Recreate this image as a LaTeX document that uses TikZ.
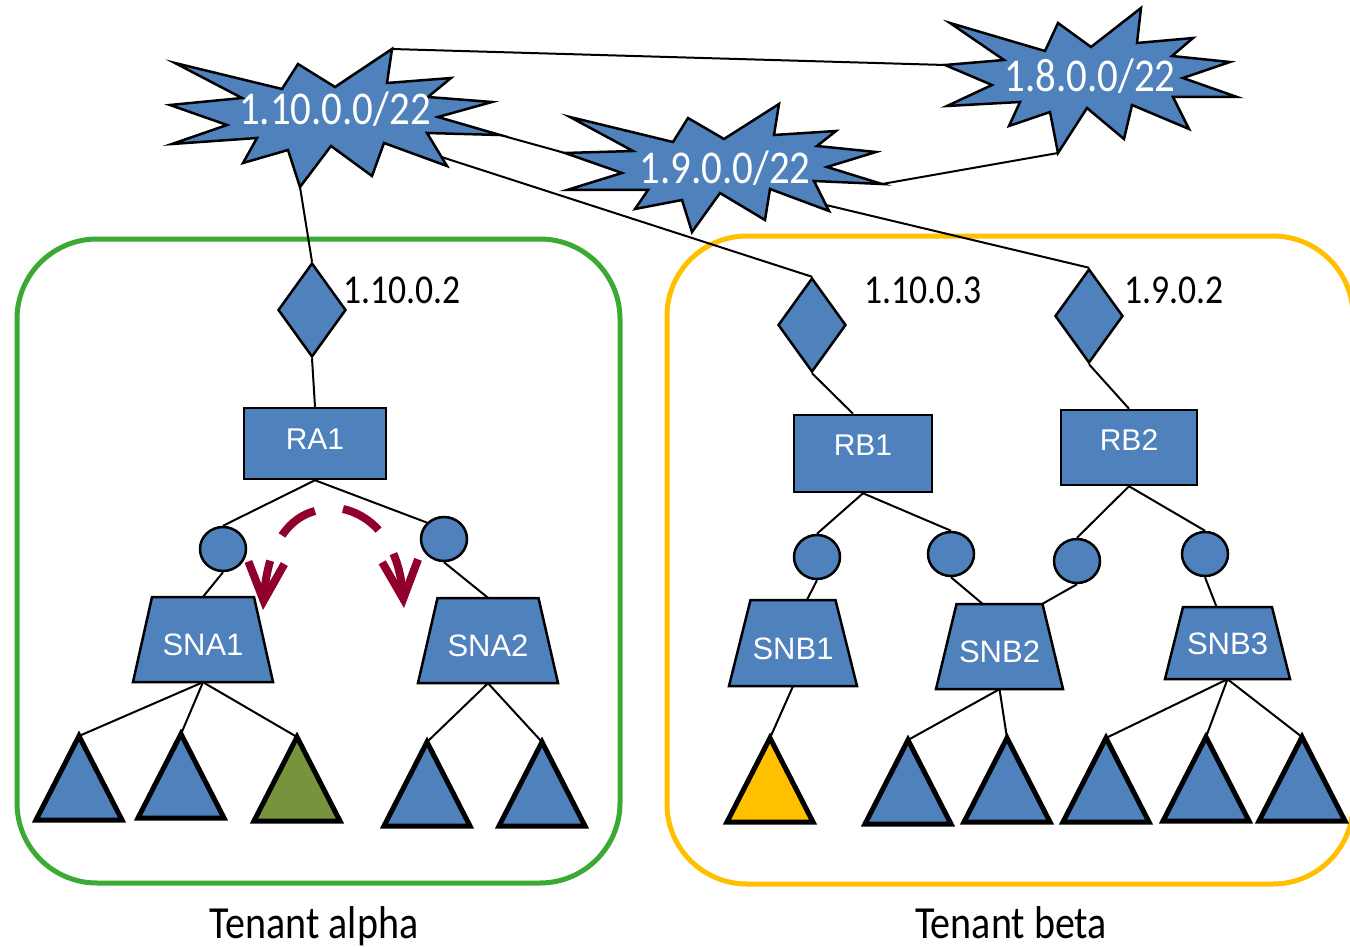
\documentclass[tikz,border=0pt]{standalone}
\usepackage{fontspec}
\usetikzlibrary{shapes.geometric,arrows.meta,calc}
\newfontfamily\gill[FakeStretch=0.87]{Carlito}
\newfontfamily\arial{Liberation Sans}
\definecolor{nodeblue}{RGB}{79,129,189}
\definecolor{tgreen}{RGB}{58,170,53}
\definecolor{tyellow}{RGB}{255,192,0}
\definecolor{olive}{RGB}{119,147,60}
\definecolor{migred}{RGB}{144,0,44}

% subnet: trapezoid outline plus a named label node
% #1 name, #2 #3 centre, #4 top width, #5 bottom width, #6 height, #7 text
\newcommand\subnetnode[7]{%
  \draw[blueshape, line join=miter] ({#2-#4/2},{#3-#6/2}) -- ({#2+#4/2},{#3-#6/2})
    -- ({#2+#5/2},{#3+#6/2}) -- ({#2-#5/2},{#3+#6/2}) -- cycle;
  \node[subnet, minimum width=#5pt, minimum height=#6pt] (#1) at (#2,#3) {#7};}

\begin{document}
\begin{tikzpicture}[x=1pt,y=-1pt,
  conn/.style={draw=black, line width=2pt},
  blueshape/.style={fill=nodeblue, draw=black, line width=2.5pt},
  star/.style={blueshape, line join=miter},
  netlabel/.style={text=white, font=\gill\fontsize{47}{47}\selectfont, anchor=base, inner sep=0pt},
  iplabel/.style={text=black, font=\gill\fontsize{41}{41}\selectfont, anchor=base, inner sep=0pt},
  tenantlabel/.style={text=black, font=\gill\fontsize{46}{46}\selectfont, anchor=base, inner sep=0pt},
  gw/.style={blueshape, diamond, minimum width=68pt, minimum height=94pt, inner sep=0pt},
  router/.style={blueshape, rectangle, inner sep=0pt, text=white,
    font=\arial\fontsize{30}{30}\selectfont, text height=21.5pt},
  port/.style={blueshape, ellipse, minimum width=46pt, minimum height=44pt, inner sep=0pt},
  subnet/.style={rectangle, inner sep=0pt, text=white, font=\arial\fontsize{31}{31}\selectfont,
    text height=32pt, text depth=0pt},
  vm/.style={draw=black, line width=5pt, fill=nodeblue},
  tenantbox/.style={rectangle, line width=5pt, rounded corners=80pt, inner sep=0pt},
  migrate/.style={draw=migred, line width=8pt, dash pattern=on 42pt off 28pt,
    -{Straight Barb[length=38pt,width=36pt]}}
]
\useasboundingbox (0,0) rectangle (1350,947);

% tenant frames
\node[tenantbox, draw=tgreen, minimum width=603pt, minimum height=644pt] (alpha) at (318.5,561) {};
\node[tenantbox, draw=tyellow, minimum width=686pt, minimum height=648pt] (beta) at (1010,560) {};
\node[tenantlabel] (alphalabel) at (314,938) {Tenant alpha};
\node[tenantlabel] (betalabel) at (1011,938) {Tenant beta};

% network clouds
\coordinate (s10a) at (392,49);
\coordinate (s10r) at (500,135);
\coordinate (s10c) at (441.5,157);
\coordinate (s10d) at (300,187);
\draw[star] (175,63) -- (282,89) -- (298,64) -- (335,87) -- (s10a) -- (387,83) -- (451,78)
  -- (428,97) -- (492,102) -- (438,117) -- (s10r) -- (427,133) -- (447,166) -- (384,143)
  -- (372,176) -- (331,146) -- (s10d) -- (288,150) -- (243,163) -- (257,138) -- (172,144)
  -- (227,125) -- (170,105) -- (242,98) -- cycle;
\node[netlabel] (net10) at (335,125) {1.10.0.0/22};

\coordinate (s9l) at (565,153);
\coordinate (s9r) at (882,184);
\coordinate (s9c) at (826,205);
\draw[star] (570,117) -- (673,142) -- (688,118) -- (724,139) -- (779,104) -- (774,135)
  -- (836,131) -- (817,146) -- (876,152) -- (827,167) -- (s9r) -- (814,181) -- (829,211)
  -- (770,189) -- (765,220) -- (720,193) -- (692,232) -- (682,200) -- (635,209) -- (648,190)
  -- (567,190) -- (622,173) -- (s9l) -- (633,151) -- cycle;
\node[netlabel] (net9) at (725,183) {1.9.0.0/22};

\coordinate (s8l) at (945,65);
\coordinate (s8b) at (1058,153);
\draw[star] (950,23) -- (1045,51) -- (1058,23) -- (1091,47) -- (1141,8) -- (1137,43)
  -- (1193,38) -- (1172,56) -- (1230,62) -- (1183,78) -- (1237,97) -- (1173,97) -- (1189,129)
  -- (1132,105) -- (1124,139) -- (1087,108) -- (s8b) -- (1050,112) -- (1009,126) -- (1020,102)
  -- (947,106) -- (992,85) -- (s8l) -- (1004,60) -- cycle;
\node[netlabel] (net8) at (1090,92) {1.8.0.0/22};

% gateways
\node[gw] (gwa) at (312,310) {};
\node[gw] (gwb1) at (812,325) {};
\node[gw] (gwb2) at (1089,316) {};
\node[iplabel] (ipa) at (402,303) {1.10.0.2};
\node[iplabel] (ipb1) at (923,303) {1.10.0.3};
\node[iplabel] (ipb2) at (1174,303) {1.9.0.2};

% routers
\node[router, minimum width=142pt, minimum height=71pt, text depth=10pt] (ra1) at (315,443.5) {RA1};
\node[router, minimum width=138pt, minimum height=77pt, text depth=17pt] (rb1) at (863,453.5) {RB1};
\node[router, minimum width=136pt, minimum height=75pt, text depth=15pt] (rb2) at (1129,447.5) {RB2};

% router ports
\node[port] (pa1) at (223,549) {};
\node[port] (pa2) at (444,539) {};
\node[port] (pb1) at (817,557) {};
\node[port] (pb2) at (951,554) {};
\node[port] (pb3) at (1077,561) {};
\node[port] (pb4) at (1205,554) {};

% subnets
\subnetnode{sna1}{203}{639.5}{102}{140}{85}{SNA1}
\subnetnode{sna2}{488}{640.5}{101}{140}{85}{SNA2}
\subnetnode{snb1}{793}{643}{85}{128}{86}{SNB1}
\subnetnode{snb2}{999.5}{646.5}{86}{127}{85}{SNB2}
\subnetnode{snb3}{1227.5}{643}{89}{125}{72}{}
\node[subnet, text height=22.5pt] (snb3label) at (1227.5,643) {SNB3};

% VM apexes
\coordinate (ta1) at (79,736);
\coordinate (ta2) at (181,734);
\coordinate (ta3) at (297,737);
\coordinate (ta4) at (427,742);
\coordinate (ta5) at (542,742);
\coordinate (tb1) at (770,738);
\coordinate (tb2) at (908,740);
\coordinate (tb3) at (1007,738);
\coordinate (tb4) at (1106,738);
\coordinate (tb5) at (1206,737);
\coordinate (tb6) at (1302,737);

% links
\draw[conn] (s10a) -- (s8l);
\draw[conn] (s10r) -- (s9l);
\draw[conn] (s9r) -- (s8b);
\draw[conn] (s10d) -- (gwa.north);
\draw[conn] (s10c) -- (gwb1.north);
\draw[conn] (s9c) -- (gwb2.north);
\draw[conn] (gwa.south) -- (ra1.north);
\draw[conn] (gwb1.south) -- ($(rb1.north)+(-10,0)$);
\draw[conn] (gwb2.south) -- (rb2.north);

\draw[conn] (ra1.south) -- (pa1.north);
\draw[conn] (ra1.south) -- (pa2.north west);
\draw[conn] (pa1.south) -- (sna1.north);
\draw[conn] (pa2.south) -- (sna2.north);
\draw[conn] (rb1.south) -- (pb1.north);
\draw[conn] (rb1.south) -- (pb2.north);
\draw[conn] (rb2.south) -- (pb3.north);
\draw[conn] (rb2.south) -- (pb4.north);
\draw[conn] (pb1.south) -- ($(snb1.north)+(14,0)$);
\draw[conn] (pb2.south) -- ($(snb2.north)+(-17,0)$);
\draw[conn] (pb3.south) -- ($(snb2.north)+(43,0)$);
\draw[conn] (pb4.south) -- ($(snb3.north)+(-11,0)$);

\draw[conn] (sna1.south) -- (ta1);
\draw[conn] (sna1.south) -- (ta2);
\draw[conn] (sna1.south) -- (ta3);
\draw[conn] (sna2.south) -- (ta4);
\draw[conn] (sna2.south) -- (ta5);
\draw[conn] (snb1.south) -- (tb1);
\draw[conn] (snb2.south) -- (tb2);
\draw[conn] (snb2.south) -- (tb3);
\draw[conn] (snb3.south) -- (tb4);
\draw[conn] (snb3.south) -- (tb5);
\draw[conn] (snb3.south) -- (tb6);

% virtual machines
\foreach \t in {ta1,ta2,ta4,ta5,tb2,tb3,tb4,tb5,tb6}
  \draw[vm] (\t) -- ++(43,84) -- ++(-86,0) -- cycle;
\draw[vm, fill=olive] (ta3) -- ++(43,84) -- ++(-86,0) -- cycle;
\draw[vm, fill=tyellow] (tb1) -- ++(43,84) -- ++(-86,0) -- cycle;

% migration arrows
\coordinate (mla) at (315,511);
\coordinate (mlb) at (263,610);
\coordinate (mra) at (343,509);
\coordinate (mrb) at (404,608);
\draw[migrate] (mla) .. controls (292,517) and (268,540) .. (mlb);
\draw[migrate] (mra) .. controls (366,514) and (398,535) .. (mrb);
\end{tikzpicture}
\end{document}
